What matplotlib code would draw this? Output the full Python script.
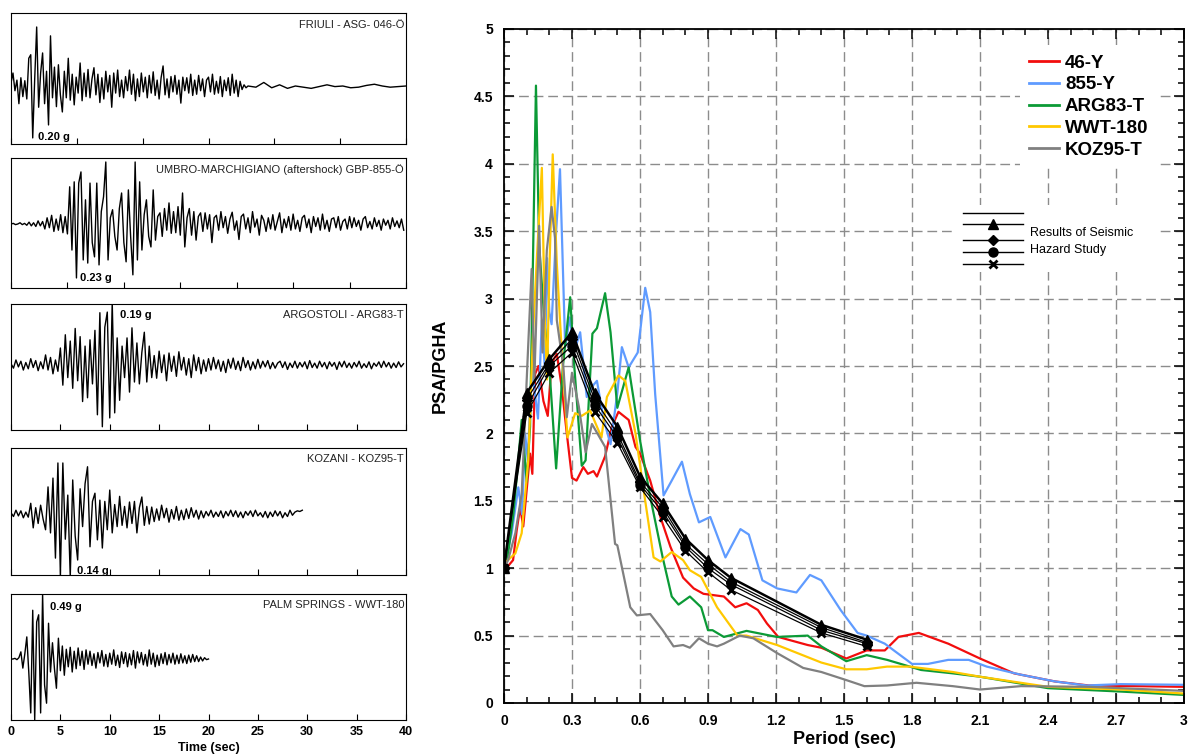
import numpy as np
import matplotlib.pyplot as plt
from matplotlib.ticker import MultipleLocator, FuncFormatter
from matplotlib.patches import Rectangle

plt.rcParams['font.family'] = ['Liberation Sans', 'DejaVu Sans']

# ---------------- response spectra: period (sec) vs PSA/PGHA ----------------
red_T = [0, 0.02, 0.04, 0.056, 0.071, 0.085, 0.10, 0.115, 0.125, 0.137, 0.152, 0.174, 0.193,
         0.21, 0.233, 0.255, 0.277, 0.30, 0.32, 0.35, 0.37, 0.395, 0.41, 0.446, 0.476, 0.505,
         0.55, 0.58, 0.60, 0.645, 0.69, 0.734, 0.79, 0.837, 0.88, 0.97, 1.02, 1.07, 1.12, 1.16,
         1.21, 1.34, 1.40, 1.51, 1.60, 1.68, 1.74, 1.83, 1.96, 2.10, 2.25, 2.43, 2.58, 3.0]
red_psa = [1.0, 1.02, 1.06, 1.28, 1.45, 1.31, 1.58, 1.85, 1.70, 2.44, 2.50, 2.24, 2.13,
           2.52, 2.59, 2.34, 2.00, 1.67, 1.65, 1.75, 1.70, 1.72, 1.68, 1.83, 2.05, 2.16,
           2.10, 1.90, 1.85, 1.65, 1.38, 1.16, 0.93, 0.85, 0.81, 0.79, 0.71, 0.74, 0.69, 0.59,
           0.49, 0.43, 0.41, 0.33, 0.39, 0.39, 0.49, 0.52, 0.44, 0.33, 0.22, 0.16, 0.13, 0.12]

blue_T = [0, 0.034, 0.063, 0.08, 0.093, 0.105, 0.122, 0.15, 0.167, 0.18, 0.19, 0.20, 0.21,
          0.23, 0.247, 0.27, 0.29, 0.31, 0.336, 0.365, 0.39, 0.41, 0.44, 0.47, 0.50, 0.52,
          0.55, 0.59, 0.623, 0.645, 0.667, 0.704, 0.74, 0.785, 0.82, 0.86, 0.91, 0.977, 1.043,
          1.08, 1.14, 1.205, 1.29, 1.35, 1.40, 1.485, 1.56, 1.60, 1.68, 1.80, 1.87, 1.96, 2.05,
          2.13, 2.28, 2.43, 2.57, 2.72, 3.0]
blue_psa = [1.0, 1.26, 1.60, 1.40, 2.00, 1.80, 2.49, 2.11, 2.84, 2.49, 3.30, 2.90, 2.81,
            3.50, 3.96, 2.64, 2.86, 2.61, 2.75, 2.27, 2.35, 2.39, 2.10, 1.92, 2.30, 2.64,
            2.49, 2.60, 3.08, 2.90, 2.29, 1.54, 1.65, 1.79, 1.55, 1.34, 1.38, 1.08, 1.29,
            1.25, 0.91, 0.85, 0.82, 0.95, 0.91, 0.69, 0.52, 0.50, 0.44, 0.29, 0.29, 0.32, 0.32,
            0.27, 0.21, 0.16, 0.13, 0.14, 0.135]

green_T = [0, 0.018, 0.041, 0.063, 0.078, 0.10, 0.115, 0.13, 0.141, 0.155, 0.18, 0.20, 0.23,
           0.26, 0.292, 0.31, 0.343, 0.36, 0.39, 0.41, 0.446, 0.47, 0.50, 0.55, 0.60, 0.645,
           0.70, 0.74, 0.77, 0.82, 0.87, 0.90, 0.92, 0.97, 1.07, 1.205, 1.34, 1.40, 1.51, 1.60,
           1.69, 1.84, 1.98, 2.10, 2.40, 2.72, 3.0]
green_psa = [1.0, 1.11, 1.40, 1.80, 2.10, 1.64, 2.05, 3.50, 4.58, 3.40, 2.79, 2.49, 1.74,
             2.50, 3.01, 2.50, 1.76, 1.80, 2.74, 2.78, 3.04, 2.75, 2.19, 2.49, 1.95, 1.53,
             1.08, 0.79, 0.73, 0.79, 0.71, 0.54, 0.54, 0.49, 0.535, 0.49, 0.50, 0.42, 0.31, 0.355,
             0.32, 0.245, 0.22, 0.195, 0.11, 0.085, 0.06]

yellow_T = [0, 0.004, 0.05, 0.078, 0.107, 0.128, 0.145, 0.167, 0.18, 0.19, 0.20, 0.215, 0.233,
            0.255, 0.28, 0.314, 0.343, 0.38, 0.41, 0.43, 0.454, 0.505, 0.535, 0.58, 0.623, 0.66,
            0.69, 0.74, 0.79, 0.82, 0.87, 0.94, 1.03, 1.07, 1.205, 1.40, 1.51, 1.60, 1.69, 1.79,
            1.98, 2.10, 2.40, 2.72, 3.0]
yellow_psa = [1.0, 1.04, 1.11, 1.26, 1.80, 2.74, 3.30, 3.97, 2.84, 2.40, 3.20, 4.07, 3.26,
              2.60, 1.97, 2.15, 2.13, 2.17, 2.05, 1.97, 2.27, 2.43, 2.39, 2.00, 1.50, 1.08,
              1.05, 1.12, 1.06, 0.985, 0.935, 0.71, 0.50, 0.50, 0.43, 0.30, 0.25, 0.25, 0.27, 0.27,
              0.23, 0.195, 0.12, 0.10, 0.07]

gray_T = [0, 0.018, 0.05, 0.078, 0.10, 0.107, 0.122, 0.134, 0.155, 0.17, 0.189, 0.21, 0.225,
          0.233, 0.262, 0.277, 0.30, 0.33, 0.36, 0.388, 0.446, 0.49, 0.50, 0.557, 0.586, 0.645,
          0.70, 0.748, 0.79, 0.82, 0.86, 0.90, 0.94, 0.97, 1.04, 1.10, 1.205, 1.32, 1.40, 1.51,
          1.59, 1.69, 1.82, 1.98, 2.10, 2.28, 2.58, 3.0]
gray_psa = [1.0, 1.06, 1.26, 1.55, 2.39, 2.66, 3.22, 2.40, 3.54, 2.60, 3.36, 3.68, 3.45,
            2.84, 2.49, 2.12, 2.45, 2.20, 1.86, 2.07, 1.90, 1.18, 1.17, 0.71, 0.65, 0.66,
            0.54, 0.42, 0.43, 0.41, 0.48, 0.44, 0.42, 0.44, 0.50, 0.48, 0.37, 0.26, 0.23, 0.17,
            0.125, 0.13, 0.15, 0.125, 0.10, 0.125, 0.12, 0.09]

# results of seismic hazard study
haz_T = [0, 0.1, 0.2, 0.3, 0.4, 0.5, 0.6, 0.7, 0.8, 0.9, 1.0, 1.4, 1.6]
haz_tri = [1.0, 2.30, 2.55, 2.75, 2.30, 2.05, 1.68, 1.48, 1.22, 1.06, 0.93, 0.58, 0.47]
haz_dia = [1.0, 2.25, 2.52, 2.70, 2.25, 2.00, 1.64, 1.45, 1.18, 1.03, 0.90, 0.56, 0.45]
haz_cir = [1.0, 2.20, 2.50, 2.65, 2.21, 1.97, 1.62, 1.42, 1.16, 1.00, 0.88, 0.54, 0.44]
haz_x = [1.0, 2.15, 2.45, 2.60, 2.16, 1.93, 1.60, 1.38, 1.13, 0.97, 0.84, 0.52, 0.42]

# ---------------- accelerograms (percent of peak value) ----------------
friuli_dt = 0.3
friuli_acc = [5, 22, -8, 10, -30, 14, -18, 9, -22, 47,
              53, -88, 12, 100, -36, 22, 56, -30, 25, -66,
              85, -20, 32, -35, 36, -15, -44, 25, -20, 47,
              -24, 20, -32, 15, -12, 39, -25, 22, -18, 28,
              -20, 12, 31, -15, 20, -28, 14, -22, 25, -10,
              18, -36, 22, -12, 27, -18, 10, -20, 16, -8,
              27, -14, 20, -25, 12, -18, 22, -10, 15, -20,
              18, -12, 24, -16, 10, -22, 14, 34, -15, 12,
              -20, 16, -10, 18, -14, 10, -29, 15, -8, 14,
              -12, 20, -16, 10, -14, 18, -8, 12, -18, 10,
              15, -10, 20, -14, 8, -12, 16, -18, 10, -8,
              14, -16, 20, -12, 10, -18, 8, -6, 2, -3]
friuli_tail_dt = 1.2
friuli_tail = [0, -2, 6, -3, 2, -4, 0, -2, -4, -1, 2, -1, 0, -3, -2, 1, 3, 0, -2, -1, 0]

umbro_dt = 0.4
umbro_acc = [0, 1, -1, 0, 2, -1, 1, -2, 3, -3, 2, -4, 5, -3, 4,
             -8, 10, -6, 14, -12, 8, -10, 15, -14, 12, -16,
             60, -42, 68, -87, 66, 84, -58, 39, -63, 66,
             -30, -53, 66, -66, 20, 44, 100, -58, 10, 23,
             -20, -42, 25, 50, -30, -61, 55, -20, -82, 100,
             -58, 68, -42, 15, 39, -20, -37, 55, -26, 12, 18,
             -20, 25, -10, 34, -15, 20, -14, 28, -18, 50, -37, 10, 25, -18, 20, -26, 12, 18,
             -12, 18, -8, 15, -30, 10, 14, -10, 20, -6,
             12, -15, 8, 19, -10, 5, -25, 12, 16, -8,
             10, -14, 20, -5, 8, -18, 14, 6, -12, 10,
             -8, 15, -10, 4, 18, -14, 8, -6, 12, -10,
             16, -8, 6, -12, 10, 14, -6, 8, -14, 12,
             -4, 10, -10, 16, -8, 6, -12, 8, 10, -6,
             12, -10, 4, 8, -8, 12, -6, 10, -4, 6,
             -10, 8, 12, -6, 4, -8, 10, -4, 6, -10,
             8, -2, 6, -8, 10, -4, 5, -6, 8, -10]

argostoli_dt = 0.25
argostoli_acc = [2, -5, 8, -3, 6, -8, 4, -6, 10, -4, 7, -9, 5, -6,
                 16, -8, 12, -14, 8, -10,
                 27, -32, 48, -20, 38, -37, 58, -25, 45, -58, 30, -52, 40, -30, 55,
                 -79, 83, -98, 60, 84, -84, 100, -76,
                 43, -56, 30, -20, 43, -43, 59, -27, 35, -30, 20, 52, -27, 30, -20,
                 15, -21, 22, -12, 16, -25, 19, -10, 14, -18, 21, -8, 12, -16, 10, -20, 16, -9,
                 12, -14, 8, -10,
                 10, -8, 12, -6, 8, -10, 6, -12, 9, -5, 11, -7, 6, -9, 12, -4, 7, -8, 5, -6, 9,
                 -5, 6, -3, 7, -6, 4, -5, 3, 6, -4,
                 5, -7, 3, -4, 6, -5, 4, -3, 5, -6,
                 7, -4, 3, -5, 6, -3, 4, -6, 5, -2,
                 4, -7, 5, -3, 6, -4, 3, -5, 4, -3,
                 6, -5, 2, -4, 5, -6, 3, -2, 5, -4,
                 6, -3, 4, -5, 3, -4, 5, -3, 2]

kozani_dt = 0.25
kozani_acc = [2, -4, 6, -3, 5, -6, 3, -5,
              17, -22, 10, -15, 14, -8, -25,
              43, -30, 57, -70, 81, -97, 81, -40, 30, -100, 54, -35, -73, 40, -20, 48, 75,
              -52, 20, 33, -41, 22,
              -54, 20, -25, 38, -30, 15, -20, 28, -18, 12, -22, 19, -15, 20, -30, 10, 27, -18,
              12, -16,
              11, -12, 8, -10, 14, -6, 9, -13, 7, -8, 12, -10, 6, -9, 8, -7, 10, -5, 6, -8,
              5, -6, 4, -3, 6, -5, 3, -4, 5, -6,
              4, -3, 6, -4, 5, -5, 3, -6, 4, -2,
              5, -4, 6, -3, 2, -5, 4, -6, 3, -4,
              5, -3, 4, -6, 2, -4, 6, -2, 3, 5, 4, 6]

palm_dt = 0.2
palm_acc = [0, 0, 1, -1, 2,
            11, -14, 8,
            34, -20, -83, 75, -94, 57, 68, -83, 100, -40, -68, 55,
            -20, 25, -15, -45, 32, -18, 20, -25, 15, -12,
            18, -20, 12, -15, 17, -10, 12, -16, 14, -8,
            12, -10, 8, -14, 10, -6, 13, -11, 7, -12,
            9, -8, 14, -10, 6, -13, 11, -7, 10, -12,
            8, -9, 13, -14, 11, -6, 10, -9, 7, -11,
            14, -8, 9, -12, 6, -10, 8, -7, 10, -9,
            7, -6, 9, -8, 6, -7, 8, -6, 5, -7,
            6, -5, 7, -4, 5,
            -4, 3, -3, 2, -1, 0]

record_titles = ['FRIULI - ASG- 046-Ö',
                 'UMBRO-MARCHIGIANO (aftershock) GBP-855-Ö',
                 'ARGOSTOLI - ARG83-T',
                 'KOZANI - KOZ95-T',
                 'PALM SPRINGS - WWT-180']
peak_labels = ['0.20 g', '0.23 g', '0.19 g', '0.14 g', '0.49 g']
record_tmax = [60, 70, 40, 40, 40]
record_tstep = [10, 10, 5, 5, 5]

# ---------------- figure ----------------
W, H = 1191, 756
fig = plt.figure(figsize=(W / 100, H / 100), dpi=100)


def px_axes(l, t, r, b):
    return fig.add_axes([l / W, 1 - b / H, (r - l) / W, (b - t) / H])


# left panels: pixel boxes, baseline and pixel size of peak
tops = [13, 158, 304, 448, 594]
bottoms = [144, 288, 430, 575, 720]
bases = [86, 224, 365, 514, 659]
peak_px = [59, 62, 63, 63, 65]
label_pos = [(0.068, 0.055), (0.175, 0.08), (0.276, 0.91), (0.167, 0.03), (0.099, 0.895)]

t_friuli = np.concatenate([np.arange(len(friuli_acc)) * friuli_dt,
                           36 + np.arange(len(friuli_tail)) * friuli_tail_dt])
records = [
    (t_friuli, friuli_acc + friuli_tail),
    (np.arange(len(umbro_acc)) * umbro_dt, umbro_acc),
    (np.arange(len(argostoli_acc)) * argostoli_dt, argostoli_acc),
    (np.arange(len(kozani_acc)) * kozani_dt, kozani_acc),
    (np.arange(len(palm_acc)) * palm_dt, palm_acc),
]

for i in range(5):
    a = px_axes(11, tops[i], 406, bottoms[i])
    tt, acc = records[i]
    a.plot(tt, acc, color='black', lw=1.0)
    a.set_xlim(0, record_tmax[i])
    lo = -(bottoms[i] - bases[i]) / peak_px[i] * 100
    hi = (bases[i] - tops[i]) / peak_px[i] * 100
    a.set_ylim(lo, hi)
    a.set_yticks([])
    a.xaxis.set_major_locator(MultipleLocator(record_tstep[i]))
    a.tick_params(axis='x', direction='in', length=4, width=0.8, top=False)
    for s in a.spines.values():
        s.set_linewidth(0.8)
    a.text(0.995, 0.91, record_titles[i], transform=a.transAxes, ha='right', va='center',
           fontsize=8, color='#222222')
    a.text(label_pos[i][0], label_pos[i][1], peak_labels[i], transform=a.transAxes,
           ha='left', va='center', fontsize=8, fontweight='bold')
    if i < 4:
        a.set_xticklabels([])
    else:
        a.tick_params(axis='x', labelsize=9, pad=4)
        for lb in a.get_xticklabels():
            lb.set_fontweight('bold')
        a.set_xlabel('Time (sec)', fontsize=9, fontweight='bold', labelpad=3)

# main spectrum plot
ax = px_axes(504, 29, 1184, 703)

ax.plot(red_T, red_psa, color='#f20d0d', lw=1.6, label='46-Y')
ax.plot(blue_T, blue_psa, color='#5f9bff', lw=1.6, label='855-Y')
ax.plot(green_T, green_psa, color='#0b9a36', lw=1.6, label='ARG83-T')
ax.plot(yellow_T, yellow_psa, color='#ffc800', lw=1.6, label='WWT-180')
ax.plot(gray_T, gray_psa, color='#808080', lw=1.6, label='KOZ95-T')

ax.plot(haz_T, haz_tri, color='black', lw=1.8, marker='^', ms=7, zorder=5)
ax.plot(haz_T, haz_dia, color='black', lw=0.9, marker='D', ms=5.5, zorder=5)
ax.plot(haz_T, haz_cir, color='black', lw=0.9, marker='o', ms=6.5, zorder=5)
ax.plot(haz_T, haz_x, color='black', lw=0.9, marker='x', ms=6, mew=2, zorder=5)

ax.set_xlim(0, 3)
ax.set_ylim(0, 5)
ax.xaxis.set_major_locator(MultipleLocator(0.3))
ax.xaxis.set_minor_locator(MultipleLocator(0.1))
ax.yaxis.set_major_locator(MultipleLocator(0.5))
ax.yaxis.set_minor_locator(MultipleLocator(0.1))
fmt = FuncFormatter(lambda v, p: '%g' % round(v, 2))
ax.xaxis.set_major_formatter(fmt)
ax.yaxis.set_major_formatter(fmt)
ax.tick_params(which='both', direction='in', top=True, right=True, width=1.1)
ax.tick_params(which='major', length=7, labelsize=10, pad=8)
ax.tick_params(which='minor', length=4.5)
for lb in ax.get_xticklabels() + ax.get_yticklabels():
    lb.set_fontweight('bold')
for s in ax.spines.values():
    s.set_linewidth(1.3)
ax.grid(True, which='major', color='#8c8c8c', lw=1.0, linestyle=(0, (7, 3.5)))
ax.set_axisbelow(True)

ax.set_xlabel('Period (sec)', fontsize=13, fontweight='bold', labelpad=2)
ax.set_ylabel('PSA/PGHA', fontsize=13, fontweight='bold', labelpad=18)

leg = ax.legend(loc='upper left', bbox_to_anchor=(0.745, 0.99), frameon=True, fancybox=False,
                edgecolor='none', facecolor='white', framealpha=1,
                prop={'weight': 'bold', 'size': 13.5}, handlelength=1.6, handletextpad=0.3,
                labelspacing=0.25, borderpad=0.5)
for ln in leg.get_lines():
    ln.set_linewidth(2.0)

# hazard study key
ax.add_patch(Rectangle((0.663, 0.639), 0.30, 0.10, transform=ax.transAxes,
                       facecolor='white', edgecolor='none', zorder=6))
key_y = [0.727, 0.710, 0.687, 0.669, 0.652]
key_m = [None, '^', 'D', 'o', 'x']
key_ms = [0, 7, 5.5, 6.5, 6]
for ky, km, kms in zip(key_y, key_m, key_ms):
    ax.plot([0.675, 0.763], [ky, ky], transform=ax.transAxes, color='black', lw=1.0,
            zorder=7, clip_on=False)
    if km:
        ax.plot([0.719], [ky], transform=ax.transAxes, color='black', marker=km, ms=kms,
                mew=2 if km == 'x' else 1, zorder=8, clip_on=False)
ax.text(0.7735, 0.697, 'Results of Seismic', transform=ax.transAxes, fontsize=9,
        va='center', zorder=8)
ax.text(0.7735, 0.672, 'Hazard Study', transform=ax.transAxes, fontsize=9,
        va='center', zorder=8)

fig.savefig('out.png', dpi=100)
